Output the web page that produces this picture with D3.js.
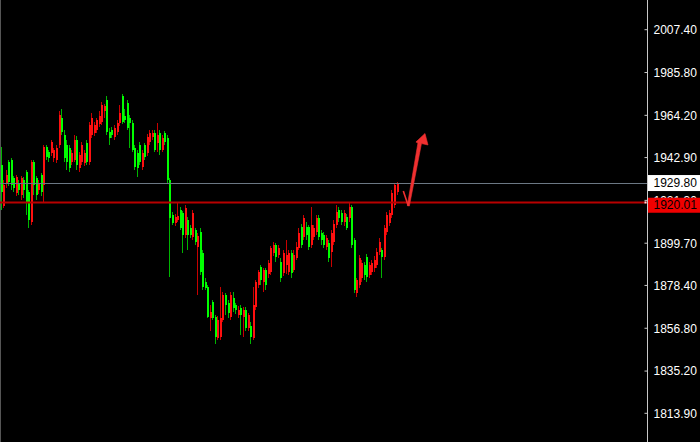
<!DOCTYPE html>
<html><head><meta charset="utf-8">
<script src="https://cdn.jsdelivr.net/npm/d3@7"></script>
<style>html,body{margin:0;padding:0;background:#000;overflow:hidden}</style>
</head><body><svg id="c" width="700" height="442"></svg>
<script>
const open = [1939.0,1918.2,1929.4,1940.5,1941.5,1932.4,1924.8,1929.9,1923.8,1931.4,
1935.5,1925.3,1910.1,1940.5,1932.4,1926.3,1933.9,1928.9,1948.1,1945.6,
1945.1,1942.6,1941.5,1949.1,1962.8,1954.2,1949.1,1947.6,1940.5,1941.5,
1951.7,1937.5,1940.5,1940.0,1950.2,1940.5,1954.2,1955.2,1956.7,1959.8,
1960.8,1965.9,1971.9,1955.7,1956.7,1953.2,1955.7,1960.3,1973.5,1963.8,
1970.4,1962.8,1960.3,1947.6,1945.1,1949.1,1938.0,1949.1,1945.1,1950.7,
1953.2,1955.2,1950.2,1955.2,1946.6,1955.2,1952.7,1931.4,1913.7,1909.6,
1911.1,1916.2,1914.7,1903.5,1911.1,1907.1,1902.5,1906.1,1897.5,1905.1,
1894.4,1879.7,1877.2,1861.5,1869.6,1862.0,1851.4,1851.9,1860.5,1873.2,
1869.1,1862.0,1871.6,1868.1,1863.0,1866.6,1862.0,1865.6,1856.9,1857.9,
1851.4,1867.1,1878.2,1887.3,1879.7,1885.8,1883.8,1884.8,1894.4,1898.5,
1893.4,1889.9,1884.3,1888.4,1884.8,1894.4,1885.8,1891.9,1897.0,1907.6,
1902.5,1907.6,1907.6,1898.5,1902.5,1905.1,1912.2,1904.5,1903.5,1897.5,
1899.5,1894.9,1900.0,1908.6,1916.2,1914.7,1910.1,1912.7,1912.2,1917.7,
1901.0,1874.2,1878.2,1881.8,1888.4,1892.4,1883.3,1884.8,1886.8,1888.4,
1894.9,1895.9,1892.4,1905.1,1909.6,1913.7,1918.7,1925.3];
const close = [1925.3,1928.9,1933.9,1930.4,1928.9,1927.4,1932.9,1926.3,1932.4,1926.3,
1920.3,1911.1,1940.5,1928.9,1923.8,1929.9,1925.3,1948.1,1943.1,1942.6,
1950.7,1946.6,1947.6,1964.3,1955.7,1942.6,1940.5,1937.5,1945.1,1951.7,
1939.0,1944.1,1949.1,1945.1,1940.5,1959.3,1962.8,1959.3,1961.8,1963.8,
1969.4,1968.9,1955.7,1952.7,1954.2,1957.8,1960.3,1965.3,1960.8,1961.8,
1957.8,1960.3,1946.6,1938.0,1937.5,1940.5,1945.1,1943.1,1953.2,1955.2,
1955.2,1946.6,1954.2,1946.6,1952.7,1950.7,1931.4,1912.2,1909.6,1912.7,
1913.2,1907.1,1903.5,1917.2,1903.5,1903.5,1914.7,1900.0,1903.0,1884.8,
1877.2,1876.7,1862.0,1864.5,1861.5,1851.9,1860.5,1861.5,1873.2,1868.1,
1864.0,1873.2,1866.6,1865.6,1865.6,1863.0,1865.6,1856.9,1863.0,1851.9,
1868.1,1879.7,1884.8,1880.8,1885.8,1878.2,1889.4,1897.0,1898.5,1892.4,
1897.0,1881.8,1894.4,1893.4,1894.4,1884.3,1893.4,1897.5,1904.5,1898.5,
1912.2,1903.5,1897.5,1908.6,1907.1,1912.2,1902.5,1901.0,1898.5,1902.0,
1891.9,1904.5,1909.1,1915.2,1912.2,1910.1,1914.7,1907.1,1917.7,1898.5,
1875.7,1880.8,1891.9,1889.4,1883.3,1882.3,1888.4,1889.4,1890.9,1894.9,
1900.0,1892.4,1907.1,1913.7,1914.7,1924.8,1928.9,1929.8];
const high = [1948.1,1931.4,1936.5,1941.5,1942.6,1933.4,1933.9,1931.4,1933.4,1932.9,
1936.5,1926.3,1941.5,1941.5,1933.4,1931.4,1934.9,1949.1,1949.1,1946.6,
1951.7,1947.6,1949.1,1965.9,1966.9,1956.7,1951.7,1949.1,1946.6,1954.2,
1953.7,1945.6,1950.7,1946.6,1951.7,1960.8,1965.3,1960.8,1962.8,1965.9,
1970.9,1969.9,1973.5,1957.8,1958.3,1959.3,1961.8,1969.4,1974.5,1966.9,
1971.9,1964.3,1961.8,1949.1,1946.6,1950.7,1946.6,1950.2,1954.7,1956.7,
1956.7,1956.7,1960.3,1956.7,1954.2,1956.2,1954.2,1932.4,1915.2,1914.2,
1920.3,1917.7,1915.7,1918.7,1912.7,1908.6,1916.2,1907.1,1904.5,1907.1,
1895.9,1881.8,1878.2,1868.1,1870.6,1863.0,1862.5,1877.2,1874.7,1874.2,
1870.6,1874.7,1874.7,1869.1,1867.6,1868.1,1867.1,1867.1,1864.0,1859.5,
1877.2,1880.8,1885.8,1888.4,1886.8,1886.8,1890.9,1898.0,1900.0,1899.5,
1898.5,1891.9,1895.9,1901.0,1895.9,1895.9,1895.9,1900.0,1907.1,1909.1,
1913.7,1910.1,1908.6,1917.7,1908.6,1913.7,1913.7,1906.1,1905.1,1903.5,
1901.0,1906.1,1911.1,1918.7,1917.7,1916.2,1916.2,1914.2,1919.8,1918.7,
1902.0,1881.8,1893.4,1890.9,1889.9,1893.9,1889.9,1890.9,1892.9,1897.0,
1902.0,1897.0,1908.6,1915.2,1916.2,1926.3,1929.9,1930.3];
const low = [1916.2,1917.2,1927.4,1928.4,1926.3,1925.3,1923.3,1923.8,1921.3,1922.3,
1913.7,1907.1,1908.6,1923.8,1921.3,1924.3,1923.3,1920.3,1941.5,1940.5,
1943.6,1940.5,1940.0,1947.6,1954.2,1940.5,1936.5,1935.5,1939.0,1940.5,
1936.5,1935.5,1939.0,1938.5,1939.0,1939.0,1952.7,1953.7,1955.2,1958.3,
1959.3,1962.8,1954.2,1949.1,1952.7,1951.7,1954.2,1958.8,1959.8,1960.3,
1956.7,1947.6,1945.6,1936.5,1932.9,1939.0,1936.5,1941.5,1943.6,1949.1,
1951.7,1945.6,1945.6,1944.1,1945.6,1949.1,1929.9,1882.3,1908.6,1908.1,
1910.1,1906.1,1894.4,1902.0,1895.9,1902.0,1901.0,1898.5,1873.2,1883.3,
1875.7,1875.7,1861.5,1855.4,1860.5,1848.8,1850.4,1850.4,1859.5,1863.0,
1861.5,1860.5,1864.5,1863.5,1861.5,1852.9,1851.9,1855.4,1855.4,1848.8,
1850.4,1865.6,1876.7,1878.2,1874.7,1875.7,1881.8,1883.3,1892.9,1889.9,
1891.9,1879.7,1882.8,1883.8,1883.3,1881.8,1884.8,1890.9,1895.9,1897.0,
1901.0,1901.0,1895.9,1897.0,1901.0,1903.5,1901.0,1898.5,1897.0,1895.9,
1889.9,1887.3,1898.5,1907.1,1910.1,1908.6,1908.1,1906.1,1910.1,1897.0,
1874.2,1872.1,1876.7,1879.7,1880.8,1879.7,1881.8,1883.3,1884.8,1886.8,
1893.4,1881.8,1890.9,1903.5,1908.1,1912.2,1917.2,1923.8];
const tickLabels = ["2007.40","1985.80","1964.20","1942.90","1921.30","1899.70","1878.40","1856.80","1835.20","1813.90"];
const askPrice = 1929.80;
const bidPrice = 1920.01;
// hand-drawn annotation arrow, in (bar index, price)
const arrowStrokeIdx = [159.3, 161.3];
const arrowStrokePrice = [1925.8, 1918.2];
const arrowHeadIdx = [160.9, 165.1, 164.3, 167.9, 169.1, 166.5, 161.7];
const arrowHeadPrice = [1918.5, 1950.0, 1950.5, 1954.8, 1949.0, 1949.7, 1918.2];

const W = 700, H = 442, axisX = 647.5;
const svg = d3.select("#c");
svg.append("rect").attr("width", W).attr("height", H).attr("fill", "#000");

const N = close.length;
const x = d3.scaleLinear().domain([0, N - 1]).range([1.5, 397.5]);
const y = d3.scaleLinear().domain([1813.9, 2007.4]).range([412.8, 29.2]);

// left border
svg.append("line").attr("x1", 0.5).attr("x2", 0.5).attr("y1", 0).attr("y2", H)
  .attr("stroke", "#555").attr("stroke-width", 1);

const bars = d3.range(N).map(i => ({i, o: open[i], c: close[i], h: high[i], l: low[i]}));
const up = "#ff1010", down = "#00ff00";
const g = svg.append("g").attr("shape-rendering", "crispEdges");
g.selectAll("line.w").data(bars).join("line").attr("class", "w")
  .attr("x1", d => Math.round(x(d.i)) - 0.5).attr("x2", d => Math.round(x(d.i)) - 0.5)
  .attr("y1", d => y(d.h)).attr("y2", d => y(d.l))
  .attr("stroke", d => d.c >= d.o ? "#c80000" : "#00b400").attr("stroke-width", 1);
g.selectAll("rect.b").data(bars).join("rect").attr("class", "b")
  .attr("x", d => Math.round(x(d.i)) - 1).attr("width", 2)
  .attr("y", d => y(Math.max(d.o, d.c)))
  .attr("height", d => Math.max(1, Math.abs(y(d.o) - y(d.c))))
  .attr("fill", d => d.c >= d.o ? up : down);

// price lines
svg.append("line").attr("x1", 0).attr("x2", axisX).attr("y1", Math.round(y(askPrice)) + 0.5).attr("y2", Math.round(y(askPrice)) + 0.5)
  .attr("stroke", "#6c7884").attr("stroke-width", 1);
svg.append("line").attr("x1", 0).attr("x2", axisX).attr("y1", y(bidPrice)).attr("y2", y(bidPrice))
  .attr("stroke", "#b80000").attr("stroke-width", 2);

// arrow annotation
const arrowColor = "#f03030";
svg.append("path")
  .attr("d", d3.line()(arrowStrokeIdx.map((v, k) => [x(v), y(arrowStrokePrice[k])])))
  .attr("stroke", arrowColor).attr("stroke-width", 1.6).attr("fill", "none");
svg.append("path")
  .attr("d", d3.line()(arrowHeadIdx.map((v, k) => [x(v), y(arrowHeadPrice[k])])) + "Z")
  .attr("fill", arrowColor).attr("stroke", arrowColor).attr("stroke-width", 0.6);

// right axis
svg.append("line").attr("x1", axisX).attr("x2", axisX).attr("y1", 0).attr("y2", H)
  .attr("stroke", "#c8c8c8").attr("stroke-width", 1);
const tickVals = tickLabels.map(Number);
const ax = svg.append("g").attr("transform", `translate(${axisX},0)`)
  .call(d3.axisRight(y).tickValues(tickVals).tickFormat((d, k) => tickLabels[k])
    .tickSizeInner(-3).tickSizeOuter(0).tickPadding(6));
ax.select(".domain").remove();
ax.selectAll(".tick line").attr("stroke", "#c8c8c8");
ax.selectAll(".tick text").attr("fill", "#fff")
  .attr("font-family", "'Liberation Sans', Arial, sans-serif").attr("font-size", 12).attr("dy", "0.36em");

// price labels
const fmt = d3.format(".2f");
const ya = y(askPrice);
svg.append("rect").attr("x", axisX + 0.5).attr("y", ya - 8).attr("width", W - axisX).attr("height", 16).attr("fill", "#fff");
svg.append("text").attr("x", axisX + 6).attr("y", ya + 4.4).text(fmt(askPrice))
  .attr("fill", "#000").attr("font-family", "'Liberation Sans', Arial, sans-serif").attr("font-size", 12);
const yb = y(bidPrice);
svg.append("rect").attr("x", axisX + 0.5).attr("y", yb - 4.7).attr("width", W - axisX).attr("height", 15).attr("fill", "#f00000");
svg.append("text").attr("x", axisX + 6).attr("y", yb + 7).text(fmt(bidPrice))
  .attr("fill", "#000").attr("font-family", "'Liberation Sans', Arial, sans-serif").attr("font-size", 12);
svg.append("rect").attr("x", axisX - 3).attr("y", yb - 1).attr("width", 2).attr("height", 2).attr("fill", "#ffe0e0");
</script></body></html>
